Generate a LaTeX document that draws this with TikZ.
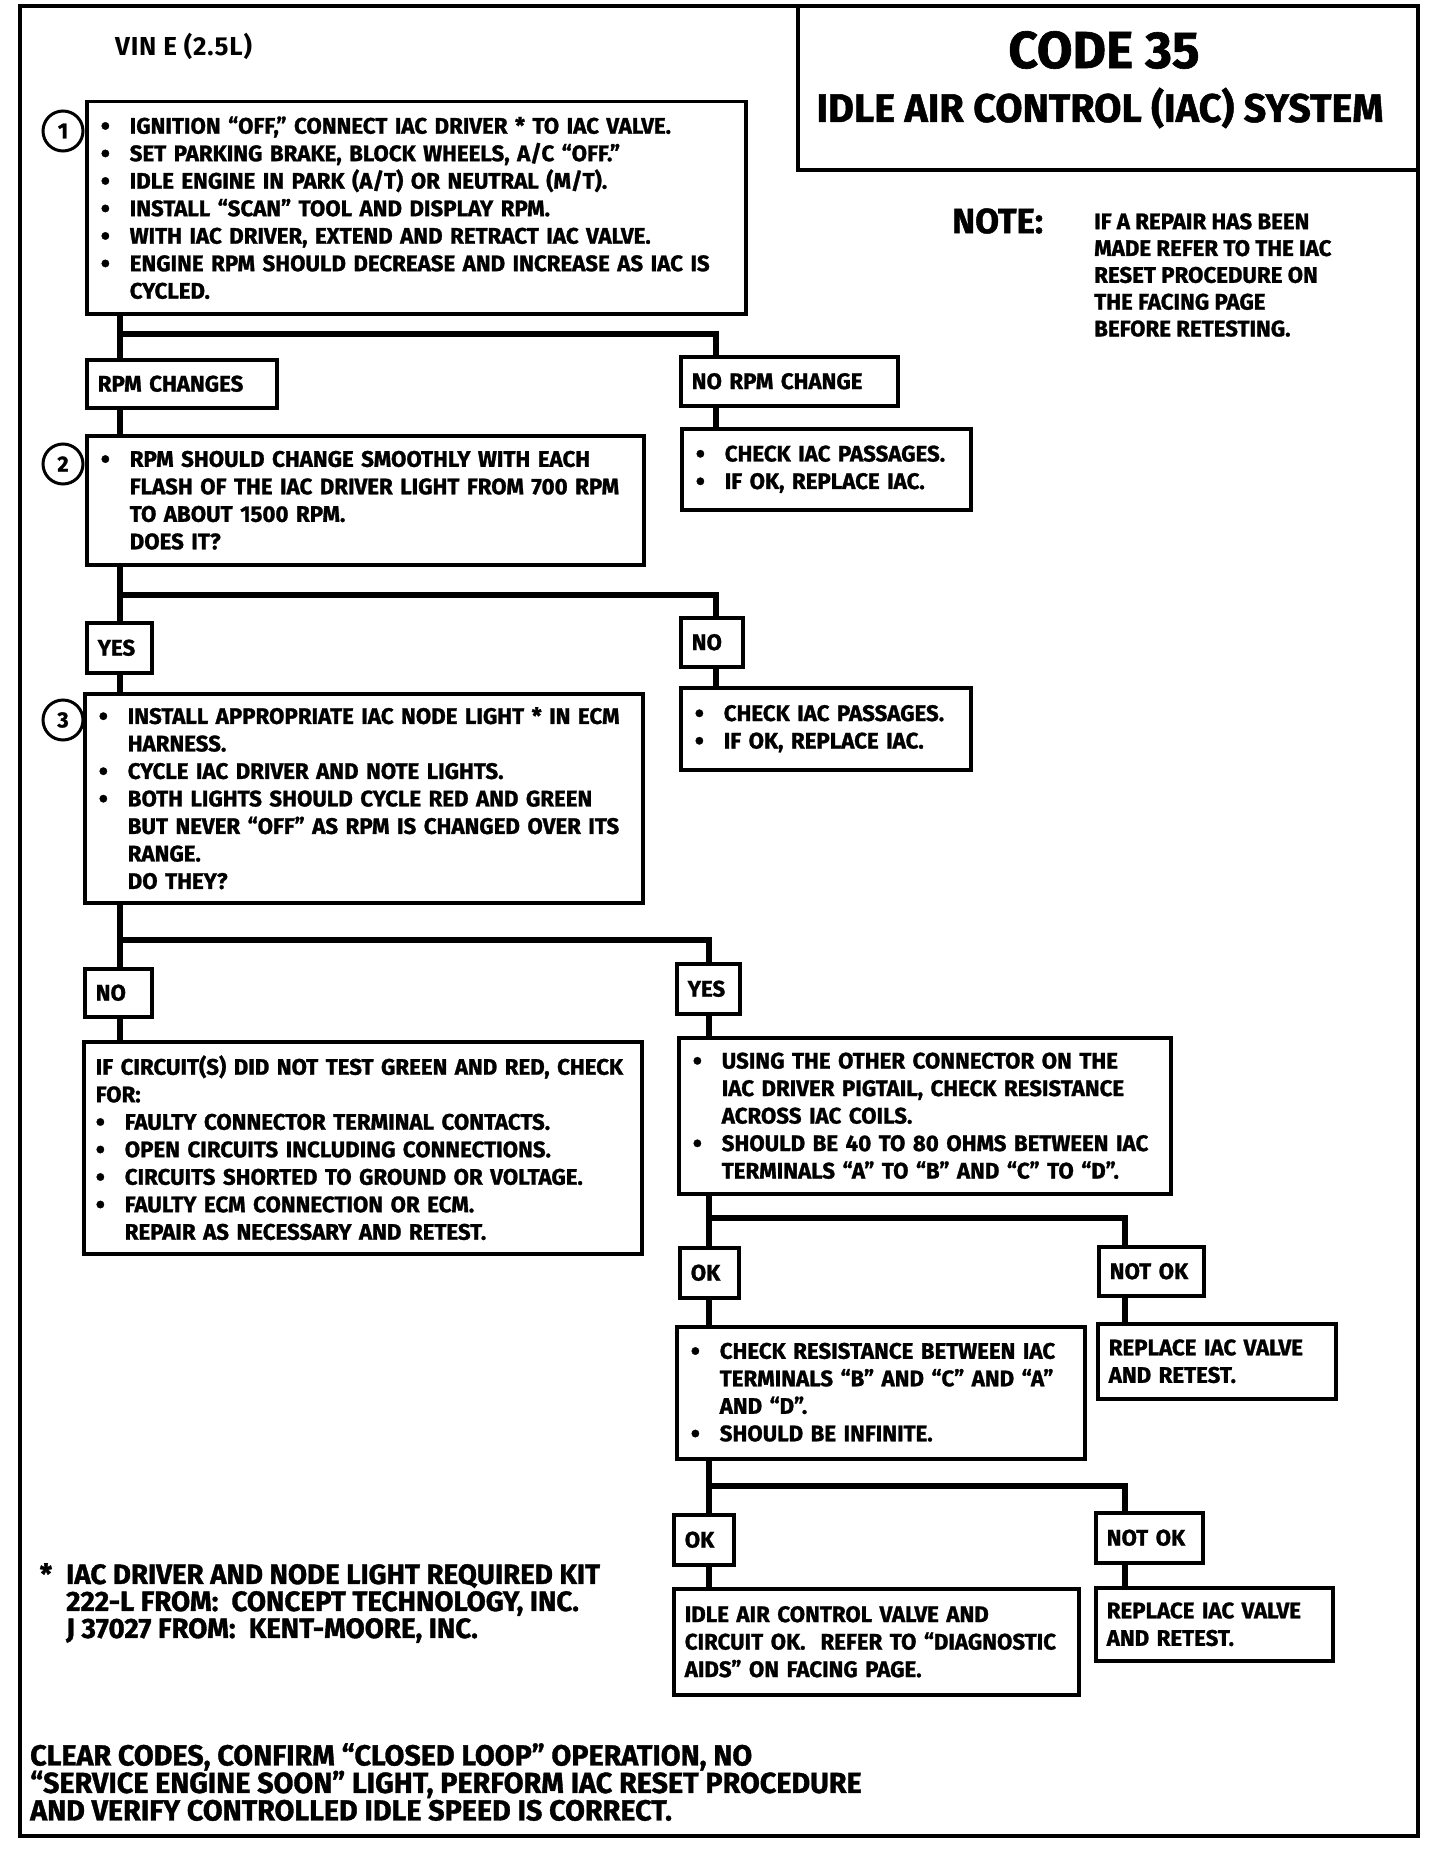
\documentclass[tikz,border=0pt]{standalone}
\usepackage{fontspec}
\setmainfont{Fira Sans}
\newfontfamily\condfont{Fira Sans}[FakeStretch=0.99, BoldFeatures={FakeBold=1.2}]
\usetikzlibrary{positioning}
\newcommand{\bl}{\makebox[29pt][l]{\raisebox{-1.5pt}{\scalebox{1.2}{\textbullet}}}}
\newcommand{\ind}{\hspace*{29pt}}

\begin{document}
\begin{tikzpicture}[x=1pt, y=-1pt,
    stepbox/.style={rectangle, draw, line width=3.5pt, anchor=north west, inner xsep=14pt, inner ysep=0pt,
      align=left, font=\condfont\bfseries\fontsize{22.5}{27.5}\selectfont},
    tagbox/.style={stepbox, inner xsep=11pt},
    numcirc/.style={circle, draw, line width=3pt, fill=white, minimum size=40pt, inner sep=0pt,
      font=\condfont\bfseries\fontsize{22}{22}\selectfont},
    conn/.style={line width=6.5pt},
    plain/.style={inner sep=0pt, align=left, font=\condfont\bfseries\fontsize{22.5}{26.8}\selectfont}
  ]
  \fill[white] (0,0) rectangle (1440,1862);
  \useasboundingbox (0,0) rectangle (1440,1862);
  % === Frame and title ===
  \draw[line width=4.5pt] (20,6) rectangle (1418,1836);
  \draw[line width=4pt] (798,6) rectangle (1418,170);
  \node[anchor=west, inner sep=0pt, font=\bfseries\fontsize{26}{26}\selectfont\addfontfeatures{LetterSpace=3}] (vin) at (115,46) {VIN E (2.5L)};
  \node[font=\condfont\bfseries\fontsize{52}{52}\selectfont] (code) at (1104,50) {CODE 35};
  \node[font=\condfont\bfseries\fontsize{40}{40}\selectfont] (sys) at (1100,108) {IDLE AIR CONTROL (IAC) SYSTEM};
  \node[anchor=west, inner sep=0pt, font=\condfont\bfseries\fontsize{35}{35}\selectfont] (note) at (952,221) {NOTE:};
  \node[plain, anchor=north west, font=\condfont\bfseries\fontsize{22.5}{26.8}\selectfont] (notetxt) at (1094,213)
    {IF A REPAIR HAS BEEN\\MADE REFER TO THE IAC\\RESET PROCEDURE ON\\THE FACING PAGE\\BEFORE RETESTING.};

  % === Step 1 ===
  \node[stepbox, minimum width=659pt, minimum height=212pt, text width=631pt] (s1) at (85,100)
    {\bl IGNITION “OFF,” CONNECT IAC DRIVER * TO IAC VALVE.\\
     \bl SET PARKING BRAKE, BLOCK WHEELS, A/C “OFF.”\\
     \bl IDLE ENGINE IN PARK (A/T) OR NEUTRAL (M/T).\\
     \bl INSTALL “SCAN” TOOL AND DISPLAY RPM.\\
     \bl WITH IAC DRIVER, EXTEND AND RETRACT IAC VALVE.\\
     \bl ENGINE RPM SHOULD DECREASE AND INCREASE AS IAC IS\\
     \ind CYCLED.};
  \node[numcirc] (n1) at (63,131) {1};
  \node[tagbox, minimum width=190pt, minimum height=48pt, text width=168pt] (rpmchg) at (85,358) {RPM CHANGES};
  \node[tagbox, minimum width=217pt, minimum height=49pt, text width=195pt] (norpm) at (679,355) {NO RPM CHANGE};
  \node[stepbox, minimum width=289pt, minimum height=81pt, text width=261pt] (chk1) at (680,427)
    {\bl CHECK IAC PASSAGES.\\ \bl IF OK, REPLACE IAC.};

  % === Step 2 ===
  \node[stepbox, minimum width=557pt, minimum height=129pt, text width=529pt] (s2) at (85,434)
    {\bl RPM SHOULD CHANGE SMOOTHLY WITH EACH\\
     \ind FLASH OF THE IAC DRIVER LIGHT FROM 700 RPM\\
     \ind TO ABOUT 1500 RPM.\\
     \ind DOES IT?};
  \node[numcirc] (n2) at (63,464) {2};
  \node[tagbox, minimum width=65pt, minimum height=50pt, text width=43pt] (yes1) at (85,621) {YES};
  \node[tagbox, minimum width=62pt, minimum height=49pt, text width=40pt] (no1) at (679,616) {NO};
  \node[stepbox, minimum width=290pt, minimum height=82pt, text width=262pt] (chk2) at (679,686)
    {\bl CHECK IAC PASSAGES.\\ \bl IF OK, REPLACE IAC.};

  % === Step 3 ===
  \node[stepbox, minimum width=558pt, minimum height=209pt, text width=530pt] (s3) at (83,692)
    {\bl INSTALL APPROPRIATE IAC NODE LIGHT * IN ECM\\
     \ind HARNESS.\\
     \bl CYCLE IAC DRIVER AND NOTE LIGHTS.\\
     \bl BOTH LIGHTS SHOULD CYCLE RED AND GREEN\\
     \ind BUT NEVER “OFF” AS RPM IS CHANGED OVER ITS\\
     \ind RANGE.\\
     \ind DO THEY?};
  \node[numcirc] (n3) at (63,720) {3};
  \node[tagbox, minimum width=67pt, minimum height=48pt, text width=45pt] (no2) at (83,967) {NO};
  \node[tagbox, minimum width=63pt, minimum height=50pt, text width=41pt] (yes2) at (675,962) {YES};
  \node[stepbox, inner xsep=12pt, minimum width=558pt, minimum height=212pt, text width=534pt] (fix1) at (82,1040)
    {IF CIRCUIT(S) DID NOT TEST GREEN AND RED, CHECK\\
     FOR:\\
     \bl FAULTY CONNECTOR TERMINAL CONTACTS.\\
     \bl OPEN CIRCUITS INCLUDING CONNECTIONS.\\
     \bl CIRCUITS SHORTED TO GROUND OR VOLTAGE.\\
     \bl FAULTY ECM CONNECTION OR ECM.\\
     \ind REPAIR AS NECESSARY AND RETEST.};

  % === Resistance checks ===
  \node[stepbox, minimum width=492pt, minimum height=156pt, text width=464pt] (ohm1) at (677,1036)
    {\bl USING THE OTHER CONNECTOR ON THE\\
     \ind IAC DRIVER PIGTAIL, CHECK RESISTANCE\\
     \ind ACROSS IAC COILS.\\
     \bl SHOULD BE 40 TO 80 OHMS BETWEEN IAC\\
     \ind TERMINALS “A” TO “B” AND “C” TO “D”.};
  \node[tagbox, minimum width=59pt, minimum height=50pt, text width=37pt] (ok1) at (678,1246) {OK};
  \node[tagbox, minimum width=105pt, minimum height=49pt, text width=83pt] (notok1) at (1097,1245) {NOT OK};
  \node[stepbox, minimum width=408pt, minimum height=132pt, text width=380pt] (ohm2) at (675,1325)
    {\bl CHECK RESISTANCE BETWEEN IAC\\
     \ind TERMINALS “B” AND “C” AND “A”\\
     \ind AND “D”.\\
     \bl SHOULD BE INFINITE.};
  \node[tagbox, minimum width=238pt, minimum height=75pt, text width=216pt] (rep1) at (1096,1322)
    {REPLACE IAC VALVE\\AND RETEST.};
  \node[tagbox, minimum width=60pt, minimum height=50pt, text width=38pt] (ok2) at (672,1513) {OK};
  \node[tagbox, minimum width=107pt, minimum height=50pt, text width=85pt] (notok2) at (1094,1511) {NOT OK};
  \node[tagbox, minimum width=405pt, minimum height=106pt, text width=383pt] (okend) at (672,1587)
    {IDLE AIR CONTROL VALVE AND\\CIRCUIT OK.\ \ REFER TO “DIAGNOSTIC\\AIDS” ON FACING PAGE.};
  \node[tagbox, minimum width=237pt, minimum height=73pt, text width=215pt] (rep2) at (1094,1586)
    {REPLACE IAC VALVE\\AND RETEST.};

  % === Notes ===
  \node[plain, anchor=north west, font=\condfont\bfseries\fontsize{28}{27}\selectfont] (kit) at (66,1563)
    {\makebox[0pt][r]{*\hspace{14pt}}IAC DRIVER AND NODE LIGHT REQUIRED KIT\\
     222-L FROM:\ \ CONCEPT TECHNOLOGY, INC.\\
     J 37027 FROM:\ \ KENT-MOORE, INC.};
  \node[plain, anchor=north west, font=\condfont\bfseries\fontsize{29}{27.5}\selectfont] (clear) at (30,1743)
    {CLEAR CODES, CONFIRM “CLOSED LOOP” OPERATION, NO\\
     “SERVICE ENGINE SOON” LIGHT, PERFORM IAC RESET PROCEDURE\\
     AND VERIFY CONTROLLED IDLE SPEED IS CORRECT.};

  % === Connectors ===
  \coordinate (colA) at (120,0);
  \coordinate (colB) at (716,0);
  \coordinate (colC) at (709,0);
  \coordinate (colD) at (1125,0);
  \coordinate (j1) at (120,334);
  \coordinate (j2) at (120,595);
  \coordinate (j3) at (120,940);
  \coordinate (j4) at (709,1218);
  \coordinate (j5) at (709,1486);
  \draw[conn] (s1.south -| colA) -- (rpmchg.north -| colA);
  \draw[conn] (j1) -| (norpm.north -| colB);
  \draw[conn] (rpmchg.south -| colA) -- (s2.north -| colA);
  \draw[conn] (norpm.south -| colB) -- (chk1.north -| colB);
  \draw[conn] (s2.south -| colA) -- (yes1.north -| colA);
  \draw[conn] (j2) -| (no1.north -| colB);
  \draw[conn] (yes1.south -| colA) -- (s3.north -| colA);
  \draw[conn] (no1.south -| colB) -- (chk2.north -| colB);
  \draw[conn] (s3.south -| colA) -- (no2.north -| colA);
  \draw[conn] (j3) -| (yes2.north -| colC);
  \draw[conn] (no2.south -| colA) -- (fix1.north -| colA);
  \draw[conn] (yes2.south -| colC) -- (ohm1.north -| colC);
  \draw[conn] (ohm1.south -| colC) -- (ok1.north -| colC);
  \draw[conn] (j4) -| (notok1.north -| colD);
  \draw[conn] (ok1.south -| colC) -- (ohm2.north -| colC);
  \draw[conn] (notok1.south -| colD) -- (rep1.north -| colD);
  \draw[conn] (ohm2.south -| colC) -- (ok2.north -| colC);
  \draw[conn] (j5) -| (notok2.north -| colD);
  \draw[conn] (ok2.south -| colC) -- (okend.north -| colC);
  \draw[conn] (notok2.south -| colD) -- (rep2.north -| colD);
\end{tikzpicture}
\end{document}
